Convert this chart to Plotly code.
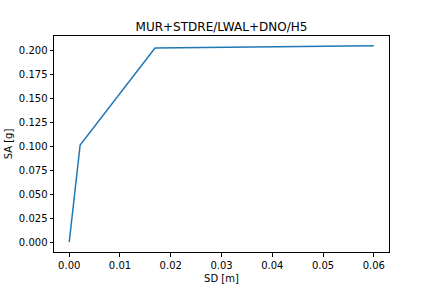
import plotly.graph_objects as go

sd = [0.0, 0.00215, 0.0169, 0.0600]
sa = [0.0, 0.1015, 0.2028, 0.2050]
x_ticks = [0.00, 0.01, 0.02, 0.03, 0.04, 0.05, 0.06]
y_ticks = [0.000, 0.025, 0.050, 0.075, 0.100, 0.125, 0.150, 0.175, 0.200]

fig = go.Figure()
fig.add_trace(go.Scatter(x=sd, y=sa, mode="lines",
                         line=dict(color="#1f77b4", width=1.5)))

axis_common = dict(showgrid=False, zeroline=False, showline=True, linecolor="black",
                   linewidth=1, mirror=True, ticks="outside", ticklen=3.5,
                   tickwidth=0.8, tickcolor="black", automargin=False,
                   tickfont=dict(family="DejaVu Sans", size=10, color="black"))

fig.update_layout(
    width=432, height=288,
    margin=dict(l=54, r=43, t=36, b=36),
    plot_bgcolor="white", paper_bgcolor="white",
    showlegend=False,
    title=dict(text="MUR+STDRE/LWAL+DNO/H5", x=0.5, xref="paper", xanchor="center",
               y=1 - 31/288, yref="container", yanchor="bottom",
               font=dict(family="DejaVu Sans", size=12, color="black")),
    xaxis=dict(range=[-0.003, 0.063], tickvals=x_ticks,
               ticktext=[f"{v:.2f}" for v in x_ticks],
               title=dict(text="SD [m]", standoff=5,
                          font=dict(family="DejaVu Sans", size=10, color="black")),
               **axis_common),
    yaxis=dict(range=[-0.01025, 0.21525], tickvals=y_ticks,
               ticktext=[f"{v:.3f}" for v in y_ticks],
               title=dict(text="SA [g]", standoff=4,
                          font=dict(family="DejaVu Sans", size=10, color="black")),
               **axis_common),
)

fig.write_html("out.html")
